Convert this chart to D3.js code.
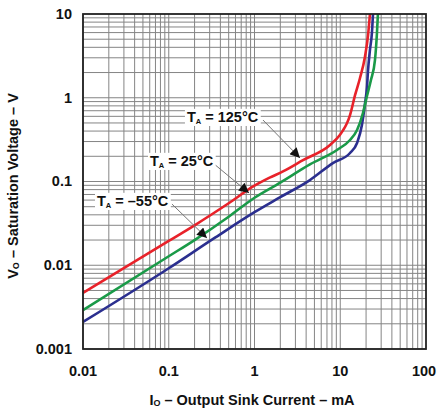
<!DOCTYPE html>
<html><head><meta charset="utf-8">
<script src="https://cdn.jsdelivr.net/npm/d3@7/dist/d3.min.js"></script>
<style>body{margin:0;background:#fff}svg{display:block}text{font-family:"Liberation Sans",Arial,sans-serif;font-weight:bold}</style>
</head><body>
<svg id="c" width="438" height="413"></svg>
<script>
const xTicks = [0.01, 0.1, 1, 10, 100];
const xTickLabels = ["0.01", "0.1", "1", "10", "100"];
const yTicks = [0.001, 0.01, 0.1, 1, 10];
const yTickLabels = ["0.001", "0.01", "0.1", "1", "10"];

// I_O (mA) and V_O (V) per temperature
const red125X = [0.01, 0.1, 0.2, 0.5, 1, 1.5, 2.15, 3.68, 7.6, 9.9, 10.8, 12, 13, 14.9, 17, 19.4, 21.1, 22.2];
const red125Y = [0.00467, 0.0195, 0.030, 0.055, 0.089, 0.111, 0.132, 0.18, 0.273, 0.36, 0.41, 0.5, 0.622, 1.08, 1.72, 3.07, 5.6, 10];
const green25X = [0.01, 0.1, 0.2, 0.5, 1, 2, 4.43, 9.16, 13, 15.7, 18.4, 20.5, 22.8, 25.4, 26.8, 27.5];
const green25Y = [0.00292, 0.0128, 0.020, 0.038, 0.064, 0.097, 0.160, 0.238, 0.313, 0.412, 0.658, 1.05, 1.63, 2.82, 5.93, 10];
const blue55X = [0.01, 0.1, 0.35, 1, 2, 4.43, 8.2, 13, 15.7, 17.9, 19.4, 20.5, 21.1, 22.2, 23.4, 24.1];
const blue55Y = [0.0021, 0.0092, 0.0215, 0.043, 0.065, 0.104, 0.166, 0.219, 0.288, 0.473, 0.84, 1.34, 2.14, 3.72, 5.93, 10];

const seriesColors = ["#e8222a", "#1a9a48", "#2b2f8f"];

// label text, label start (data), arrow start and tip (data)
const labelTemps = ["125°C", "25°C", "–55°C"];
const labelPos = [[0.163, 0.573], [0.0604, 0.171], [0.01456, 0.0569]];
const arrowFrom = [[1.256, 0.542], [0.328, 0.166], [0.109, 0.0538]];
const arrowTo = [[3.39, 0.191], [0.863, 0.073], [0.279, 0.0211]];

const svg = d3.select("#c");
const L = 83, R = 426, T = 14, B = 349;
const x = d3.scaleLog().domain([0.01, 100]).range([L, R]);
const y = d3.scaleLog().domain([0.001, 10]).range([B, T]);

// grid
const minorX = [], minorY = [];
for (let e = -2; e < 2; e++) for (let m = 1; m <= 9; m++) minorX.push(m * Math.pow(10, e));
for (let e = -3; e < 1; e++) for (let m = 1; m <= 9; m++) minorY.push(m * Math.pow(10, e));
const g = svg.append("g");
g.selectAll(".gx").data(minorX).join("line")
  .attr("x1", d => x(d)).attr("x2", d => x(d)).attr("y1", T).attr("y2", B)
  .attr("stroke", "#858585").attr("stroke-width", 1);
g.selectAll(".gy").data(minorY).join("line")
  .attr("y1", d => y(d)).attr("y2", d => y(d)).attr("x1", L).attr("x2", R)
  .attr("stroke", "#858585").attr("stroke-width", 1);

// curves
const lineX = d3.line().x(d => x(d[0])).y(d => y(d[1])).curve(d3.curveMonotoneX);
const sets = [[red125X, red125Y], [green25X, green25Y], [blue55X, blue55Y]];
[2, 1, 0].forEach(i => {
  const pts = sets[i][0].map((v, k) => [v, sets[i][1][k]]);
  svg.append("path").datum(pts).attr("d", lineX)
    .attr("fill", "none").attr("stroke", seriesColors[i]).attr("stroke-width", 2.6)
    .attr("stroke-linejoin", "round");
});

// frame
svg.append("rect").attr("x", L).attr("y", T).attr("width", R - L).attr("height", B - T)
  .attr("fill", "none").attr("stroke", "#222").attr("stroke-width", 1.8);

// arrows
svg.append("defs").append("marker").attr("id", "ah").attr("viewBox", "0 0 10 10")
  .attr("refX", 10).attr("refY", 5).attr("markerWidth", 12).attr("markerHeight", 10)
  .attr("markerUnits", "userSpaceOnUse").attr("orient", "auto")
  .append("path").attr("d", "M0,0 L10,5 L0,10 Z").attr("fill", "#111");
labelTemps.forEach((t, i) => {
  svg.append("line")
    .attr("x1", x(arrowFrom[i][0])).attr("y1", y(arrowFrom[i][1]))
    .attr("x2", x(arrowTo[i][0])).attr("y2", y(arrowTo[i][1]))
    .attr("stroke", "#777").attr("stroke-width", 1).attr("marker-end", "url(#ah)");
});
labelTemps.forEach((t, i) => {
  const tx = svg.append("text").attr("x", x(labelPos[i][0])).attr("y", y(labelPos[i][1]))
    .attr("font-size", 14.5).attr("dominant-baseline", "middle").attr("fill", "#111");
  tx.append("tspan").text("T");
  tx.append("tspan").text("A").attr("font-size", 7.5).attr("dy", 4);
  tx.append("tspan").text(" = " + t).attr("dy", -4);
  const bb = tx.node().getBBox();
  svg.insert("rect", function(){ return tx.node(); })
    .attr("x", bb.x - 2).attr("y", bb.y).attr("width", bb.width + 4).attr("height", bb.height)
    .attr("fill", "#fff");
});

// tick labels
svg.selectAll(".xt").data(xTicks).join("text")
  .attr("x", (d, i) => x(d) + (i === 4 ? -2 : 0)).attr("y", 372).attr("text-anchor", "middle")
  .attr("dominant-baseline", "middle").attr("font-size", 14.5).attr("fill", "#111")
  .text((d, i) => xTickLabels[i]);
svg.selectAll(".yt").data(yTicks).join("text")
  .attr("x", 72).attr("y", d => y(d) + 1).attr("text-anchor", "end")
  .attr("dominant-baseline", "middle").attr("font-size", 14.5).attr("fill", "#111")
  .text((d, i) => yTickLabels[i]);

// axis titles
const xt = svg.append("text").attr("x", 252).attr("y", 401).attr("text-anchor", "middle")
  .attr("dominant-baseline", "middle").attr("font-size", 14.5).attr("fill", "#111");
xt.append("tspan").text("I");
xt.append("tspan").text("O").attr("font-size", 9).attr("dy", 3);
xt.append("tspan").text(" – Output Sink Current – mA").attr("dy", -3);

const yt = svg.append("text").attr("transform", "translate(14,186) rotate(-90)")
  .attr("text-anchor", "middle").attr("dominant-baseline", "middle")
  .attr("font-size", 14.5).attr("fill", "#111");
yt.append("tspan").text("V");
yt.append("tspan").text("O").attr("font-size", 9).attr("dy", 3);
yt.append("tspan").text(" – Saturation Voltage – V").attr("dy", -3);
</script>
</body></html>
